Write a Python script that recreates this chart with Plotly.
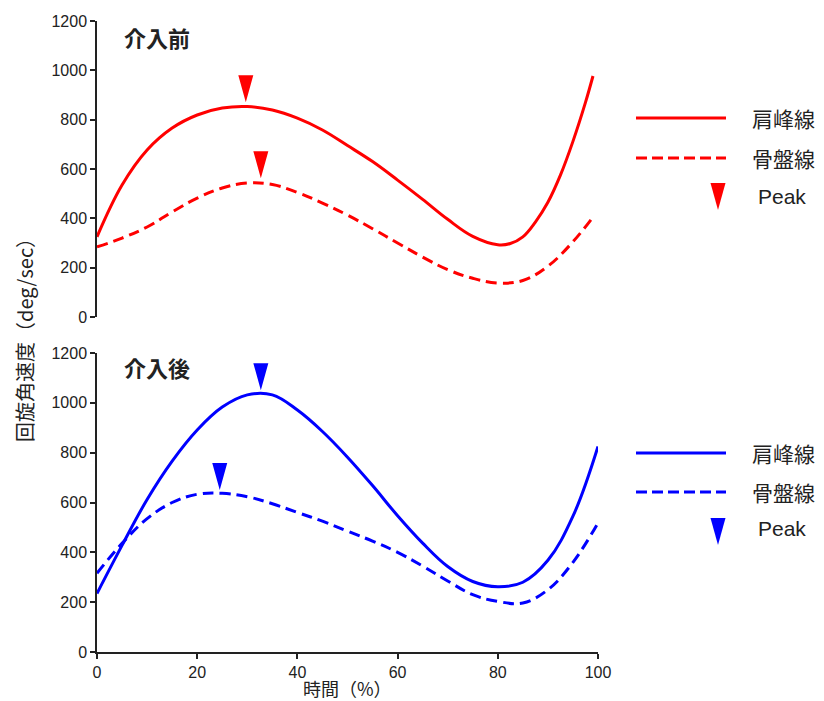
import plotly.graph_objects as go

# ---------------- data ----------------
# 介入前 (before intervention)
x_pre_acromion = [0, 5, 10, 15, 20, 25, 30, 35, 40, 45, 50, 55, 60, 65, 70, 75, 80, 82.5, 85, 87.5, 90, 92.5, 95, 97.5, 99]
pre_acromion = [325, 535, 677, 766, 819, 847, 853, 839, 806, 758, 695, 630, 555, 477, 396, 327, 293, 298, 325, 385,
                465, 575, 712, 870, 977]

x_pre_pelvis = [0, 5, 10, 15, 20, 25, 30, 35, 40, 45, 50, 55, 60, 65, 70, 75, 80, 85, 90, 95, 99]
pre_pelvis = [284, 320, 365, 426, 482, 523, 543, 537, 505, 462, 413, 358, 300, 243, 192, 157, 138, 148, 206, 305, 405]

# 介入後 (after intervention)
x_post_acromion = [0, 5, 10, 15, 20, 25, 30, 35, 40, 45, 50, 55, 60, 65, 70, 75, 80, 85, 90, 95, 100]
post_acromion = [235, 428, 612, 766, 891, 983, 1032, 1032, 971, 885, 782, 668, 547, 437, 343, 283, 262, 280, 368, 545, 825]

x_post_pelvis = [0, 5, 10, 15, 20, 25, 30, 35, 40, 45, 50, 55, 60, 65, 70, 75, 80, 85, 90, 95, 100]
post_pelvis = [316, 436, 535, 600, 633, 637, 623, 595, 560, 525, 485, 445, 400, 345, 285, 230, 203, 197, 250, 360, 518]

# Peak markers (x position, tip value)
pre_peak_x = [29.7, 32.7]
pre_peak_tip = [871, 563]
post_peak_x = [32.7, 24.5]
post_peak_tip = [1051, 650]

x_ticks = [0, 20, 40, 60, 80, 100]
y_ticks = [0, 200, 400, 600, 800, 1000, 1200]

series_names = ["肩峰線", "骨盤線", "Peak"]
panel_titles = ["介入前", "介入後"]
x_title = "時間（%）"
y_title = "回旋角速度（deg/sec）"

RED = "#ff0000"
BLUE = "#0000ff"
AX = "#222222"
CJK = "Noto Sans CJK JP"
LAT = "Liberation Sans, Arial"

# ---------------- layout geometry (reference pixels) ----------------
W, H = 824, 701
L, R = 97, 598          # plot left/right
T, B = 21, 652          # plot top/bottom
PW, PH = R - L, B - T
top_dom = [(B - 317) / PH, 1.0]
bot_dom = [0.0, (B - 353) / PH]


def px_x(p):
    return (p - L) / PW


def px_y(p):
    return (B - p) / PH


def triangles(xs, tips, dom):
    # narrow downward-pointing triangles, 15 px wide and 27 px tall
    panel_px = (dom[1] - dom[0]) * PH
    hw = 7.5 * 100 / PW
    h = 27 * 1200 / panel_px
    tx, ty = [], []
    for x, t in zip(xs, tips):
        tx += [x - hw, x + hw, x, x - hw, None]
        ty += [t + h, t + h, t, t + h, None]
    return tx, ty


SM = 1.1
fig = go.Figure()

# top panel
fig.add_trace(go.Scatter(x=x_pre_acromion, y=pre_acromion, mode="lines", name=series_names[0],
                         line=dict(color=RED, width=3, shape="spline", smoothing=SM), xaxis="x", yaxis="y"))
fig.add_trace(go.Scatter(x=x_pre_pelvis, y=pre_pelvis, mode="lines", name=series_names[1],
                         line=dict(color=RED, width=3, dash="11px,6px", shape="spline", smoothing=SM),
                         xaxis="x", yaxis="y"))
tx, ty = triangles(pre_peak_x, pre_peak_tip, top_dom)
fig.add_trace(go.Scatter(x=tx, y=ty, mode="lines", fill="toself", fillcolor=RED, name=series_names[2],
                         line=dict(width=0, color=RED), xaxis="x", yaxis="y"))

# bottom panel
fig.add_trace(go.Scatter(x=x_post_acromion, y=post_acromion, mode="lines", name=series_names[0],
                         line=dict(color=BLUE, width=3, shape="spline", smoothing=SM), xaxis="x2", yaxis="y2"))
fig.add_trace(go.Scatter(x=x_post_pelvis, y=post_pelvis, mode="lines", name=series_names[1],
                         line=dict(color=BLUE, width=3, dash="11px,6px", shape="spline", smoothing=SM),
                         xaxis="x2", yaxis="y2"))
tx, ty = triangles(post_peak_x, post_peak_tip, bot_dom)
fig.add_trace(go.Scatter(x=tx, y=ty, mode="lines", fill="toself", fillcolor=BLUE, name=series_names[2],
                         line=dict(width=0, color=BLUE), xaxis="x2", yaxis="y2"))

yax = dict(range=[0, 1200], tickvals=y_ticks, ticks="outside", ticklen=5, tickwidth=1.5, tickcolor=AX,
           showline=True, linecolor=AX, linewidth=1.5, showgrid=False, zeroline=False,
           tickfont=dict(family=LAT, size=16, color=AX))

fig.update_layout(
    width=W, height=H,
    margin=dict(l=L, r=W - R, t=T, b=H - B),
    paper_bgcolor="white", plot_bgcolor="white",
    showlegend=False,
    xaxis=dict(domain=[0, 1], range=[0, 100], anchor="y", visible=False, fixedrange=True),
    yaxis=dict(domain=top_dom, anchor="x", **yax),
    xaxis2=dict(domain=[0, 1], range=[0, 100], anchor="y2", tickvals=x_ticks, ticks="outside", ticklen=5,
                tickwidth=1.5, tickcolor=AX, showline=True, linecolor=AX, linewidth=1.5, showgrid=False,
                zeroline=False, tickfont=dict(family=LAT, size=16, color=AX)),
    yaxis2=dict(domain=bot_dom, anchor="x2", **yax),
)

ann = []
# axis titles
ann.append(dict(text=y_title, x=px_x(24), y=px_y(335), xref="paper", yref="paper", showarrow=False,
                textangle=-90, xanchor="center", yanchor="middle", font=dict(family=CJK, size=20, color=AX)))
ann.append(dict(text=x_title, x=0.5, y=px_y(688), xref="paper", yref="paper", showarrow=False,
                xanchor="center", yanchor="middle", font=dict(family=CJK, size=18, color=AX)))
# panel titles
for title, yc in zip(panel_titles, [37, 367]):
    ann.append(dict(text="<b>" + title + "</b>", x=px_x(122), y=px_y(yc), xref="paper", yref="paper",
                    showarrow=False, xanchor="left", yanchor="middle", font=dict(family=CJK, size=22, color=AX)))

shapes = []
# manual legends
for color, ys in [(RED, [118, 158, 183, 210, 196]), (BLUE, [453, 492, 518, 545, 528])]:
    y_solid, y_dash, tri_top, tri_bot, y_peak = ys
    shapes.append(dict(type="line", xref="paper", yref="paper", x0=px_x(636), x1=px_x(726),
                       y0=px_y(y_solid), y1=px_y(y_solid), line=dict(color=color, width=3)))
    shapes.append(dict(type="line", xref="paper", yref="paper", x0=px_x(636), x1=px_x(726),
                       y0=px_y(y_dash), y1=px_y(y_dash), line=dict(color=color, width=3, dash="11px,5px")))
    path = "M {a},{t} L {b},{t} L {c},{bt} Z".format(a=px_x(710.5), b=px_x(725.5), c=px_x(718),
                                                   t=px_y(tri_top), bt=px_y(tri_bot))
    shapes.append(dict(type="path", xref="paper", yref="paper", path=path, fillcolor=color,
                       line=dict(width=0)))
    ann.append(dict(text=series_names[0], x=px_x(750), y=px_y(y_solid), xref="paper", yref="paper",
                    showarrow=False, xanchor="left", yanchor="middle", font=dict(family=CJK, size=21, color=AX)))
    ann.append(dict(text=series_names[1], x=px_x(750), y=px_y(y_dash), xref="paper", yref="paper",
                    showarrow=False, xanchor="left", yanchor="middle", font=dict(family=CJK, size=21, color=AX)))
    ann.append(dict(text=series_names[2], x=px_x(756), y=px_y(y_peak), xref="paper", yref="paper",
                    showarrow=False, xanchor="left", yanchor="middle", font=dict(family=LAT, size=21, color=AX)))

fig.update_layout(annotations=ann, shapes=shapes)

fig.write_html("out.html",
               config={"displayModeBar": False},
               post_script="document.body.style.margin='0';document.body.style.padding='0';"
                           "document.documentElement.style.overflow='hidden';")
